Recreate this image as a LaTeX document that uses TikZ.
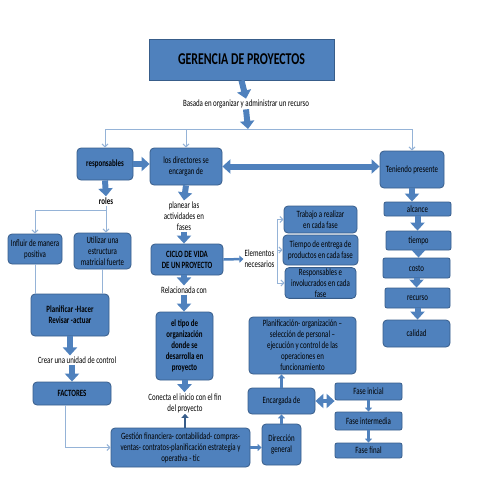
\documentclass[tikz,border=0pt]{standalone}
\usepackage{fontspec}
\setmainfont{Carlito}[FakeStretch=0.72]
\usetikzlibrary{arrows.meta}
\definecolor{cajaazul}{RGB}{79,129,189}
\definecolor{bordeazul}{RGB}{56,93,138}
\definecolor{lineaazul}{RGB}{149,179,215}

\begin{document}
\begin{tikzpicture}[x=1pt, y=-1pt,
  every node/.style={font=\fontsize{9.6}{11}\selectfont, align=center, inner sep=1pt},
  caja/.style={draw=bordeazul, fill=cajaazul, rounded corners=4pt, line width=0.8pt},
  negrita/.style={font=\fontsize{9.6}{11}\selectfont\bfseries},
  flecha/.style={-{Triangle[width=14pt,length=8pt]}, line width=6pt, cajaazul},
  flechadoble/.style={{Triangle[width=14pt,length=8pt]}-{Triangle[width=14pt,length=8pt]}, line width=6pt, cajaazul},
  media/.style={-{Triangle[width=7pt,length=4pt]}, line width=2.5pt, cajaazul},
  fina/.style={-{Straight Barb[length=3pt,width=6pt]}, line width=1pt, lineaazul}]
\useasboundingbox (0,0) rectangle (480,480);
\node[caja, rounded corners=0pt, minimum width=185pt, minimum height=41pt, font=\fontsize{16.5}{18}\selectfont\bfseries] (G) at (241.5,59.5) {GERENCIA DE PROYECTOS};
\node (Bas) at (246,104) {Basada en organizar y administrar un recurso};
\coordinate (S) at (248,129);
\node[caja, negrita, minimum width=56pt, minimum height=32pt] (Resp) at (105,164) {responsables};
\node[caja, minimum width=72pt, minimum height=37pt] (Dir) at (186,166.5) {los directores se\\ encargan  de};
\node[caja, minimum width=64pt, minimum height=37pt] (Ten) at (412,169.5) {Teniendo presente};
\node[negrita] (Rol) at (106,201) {roles};
\coordinate (R) at (106,210);
\node[caja, minimum width=54pt, minimum height=30pt] (Inf) at (35,249) {Influir de manera\\ positiva};
\node[caja, minimum width=57pt, minimum height=36pt] (Uti) at (102.5,251) {Utilizar  una\\ estructura\\ matricial fuerte};
\node[caja, negrita, minimum width=78pt, minimum height=42pt] (Pla) at (70,315) {Planificar -Hacer\\ Revisar -actuar};
\node (Cre) at (77,360) {Crear una unidad de control};
\node[caja, negrita, minimum width=78pt, minimum height=23pt] (Fac) at (72,393.5) {FACTORES};
\node (Plan) at (184,216) {planear  las\\ actividades en\\ fases};
\node[caja, negrita, minimum width=72pt, minimum height=31pt] (Cic) at (187,259.5) {CICLO DE VIDA\\ DE UN PROYECTO};
\node (Ele) at (259.5,259) {Elementos\\ necesarios};
\coordinate (K) at (277,259);
\node[caja, minimum width=73pt, minimum height=27pt] (Tra) at (320.5,219.5) {Trabajo  a realizar\\ en cada fase};
\node[caja, minimum width=75pt, minimum height=30pt] (Tie) at (320.5,250) {Tiempo de entrega de\\ productos en cada fase};
\node[caja, minimum width=71pt, minimum height=30pt] (Inv) at (320.5,283) {Responsables  e\\ involucrados  en cada\\ fase};
\node (Rel) at (184,290) {Relacionada con};
\node[caja, negrita, minimum width=57pt, minimum height=68pt] (Tip) at (184.5,346) {el tipo de\\ organización\\ donde se\\ desarrolla en\\ proyecto};
\node (Con) at (185,403) {Conecta el inicio  con el fin\\ del proyecto};
\node[caja, minimum width=139pt, minimum height=39pt] (Ges) at (180.5,447.5) {Gestión financiera- contabilidad- compras-\\ ventas-  contratos-planificación estrategia y\\ operativa - tic};
\node[caja, minimum width=39pt, minimum height=41pt] (Dg) at (281.5,444.5) {Dirección\\ general};
\node[caja, minimum width=67pt, minimum height=26pt] (Enc) at (281.5,401) {Encargada de};
\node[caja, minimum width=107pt, minimum height=57pt] (Ope) at (302.5,345.5) {Planificación- organización –\\ selección de personal –\\ ejecución y control de las\\ operaciones en\\ funcionamiento};
\node[caja, rounded corners=2pt, minimum width=67pt, minimum height=17pt] (F1) at (368.5,391.5) {Fase inicial};
\node[caja, rounded corners=2pt, minimum width=67pt, minimum height=18pt] (F2) at (368.5,421) {Fase intermedia};
\node[caja, rounded corners=2pt, minimum width=67pt, minimum height=15pt] (F3) at (368.5,450.5) {Fase final};
\node[caja, rounded corners=2pt, minimum width=67pt, minimum height=14pt] (Alc) at (417.5,209) {alcance};
\node[caja, rounded corners=2pt, minimum width=65pt, minimum height=19pt] (Tmp) at (418.5,240.5) {tiempo};
\node[caja, rounded corners=2pt, minimum width=67pt, minimum height=20pt] (Cos) at (416.5,268) {costo};
\node[caja, rounded corners=2pt, minimum width=65pt, minimum height=20pt] (Rec) at (417.5,298) {recurso};
\node[caja, minimum width=67pt, minimum height=27pt] (Cal) at (416.5,333.5) {calidad};
% tronco
\draw[flecha] (G.south) -- (Bas.north);
\draw[flecha] (Bas.south) -- (S);
\draw[fina] (S) -| (Resp.north);
\draw[fina] (S) -| (Dir.north);
\draw[fina] (S) -| (Ten.north);
\draw[flecha] (Resp.east) -- (Resp.east -| Dir.west);
\draw[flechadoble] (Dir.east) -- (Dir.east -| Ten.west);
% roles
\draw[flecha] (Resp.south) -- (Rol.north);
\draw[fina] (Rol.south) -- (Rol.south |- Uti.north);
\draw[fina] (R) -| (Inf.north);
\draw[fina, -] (Inf.south) -- (Inf.south |- Pla.north);
\draw[fina, -] (Uti.south) -- (Uti.south |- Pla.north);
\draw[flecha] (Pla.south) -- (Cre.north -| Pla.south);
\draw[flecha] (Cre.south -| Fac.north) -- (Fac.north);
\draw[fina] ([xshift=-7pt]Fac.south) |- (Ges.west);
% ciclo de vida
\draw[flecha] (Dir.south) -- (Plan.north);
\draw[flecha] (Plan.south) -- (Plan.south |- Cic.north);
\draw[media] (Cic.east) -- (Ele.west);
\draw[fina, -] (K |- Tra) -- (K |- Inv);
\draw[fina] (K |- Tra) -- (Tra.west);
\draw[fina] (K |- Tie) -- (Tie.west);
\draw[fina] (K |- Inv) -- (Inv.west);
\draw[flecha] (Cic.south -| Rel) -- (Rel.north);
\draw[flecha] (Rel.south) -- (Rel.south |- Tip.north);
\draw[flecha] (Tip.south) -- (Tip.south |- Con.north);
\draw[media, bordeazul] (Con.south |- Ges.north) -- (Con.south);
% direccion
\draw[media] (Ges.east) -- (Ges.east -| Dg.west);
\draw[media] (Dg.north) -- (Enc.south);
\draw[media] (Enc.north) -- (Enc.north |- Ope.south);
\draw[flechadoble, line width=4pt] (Enc.east) -- (Enc.east -| F1.west);
\draw[media] (F1.south) -- (F2.north);
\draw[media] (F2.south) -- (F3.north);
% teniendo presente
\draw[flecha] (Ten.south) -- (Ten.south |- Alc.north);
\draw[flecha] (Alc.south) -- (Alc.south |- Tmp.north);
\draw[flecha] (Tmp.south) -- (Tmp.south |- Cos.north);
\draw[flecha] (Cos.south) -- (Cos.south |- Rec.north);
\draw[flecha] (Rec.south) -- (Rec.south |- Cal.north);
\end{tikzpicture}
\end{document}
